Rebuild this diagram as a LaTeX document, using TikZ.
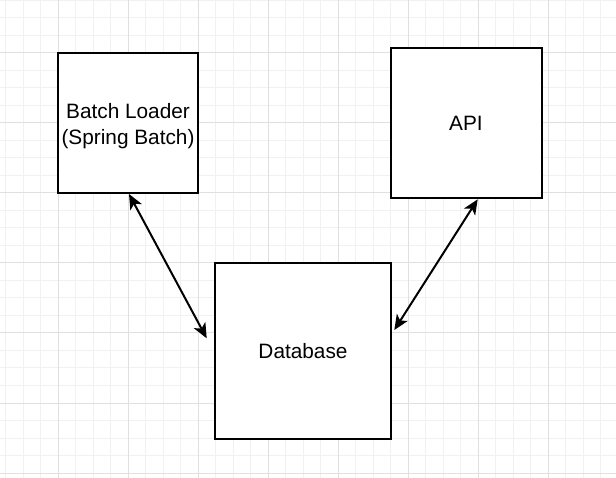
\documentclass[tikz,border=0pt]{standalone}
\usepackage{fontspec}
\setmainfont{Liberation Sans}
\usetikzlibrary{arrows.meta}
\definecolor{gridminor}{HTML}{F1F1F1}
\definecolor{gridmajor}{HTML}{E0E0E0}
\begin{document}
\begin{tikzpicture}[x=1pt,y=-1pt,
  box/.style={draw=black, line width=2pt, fill=white, inner sep=0pt, align=center,
    font=\fontsize{20.8}{26.3}\selectfont},
  boxtext/.style={inner sep=0pt, align=center, font=\fontsize{20.8}{26.3}\selectfont},
  link/.style={line width=2pt, {Stealth[length=15pt,width=13pt,inset=4pt]}-{Stealth[length=15pt,width=13pt,inset=4pt]}},
  minorline/.style={gridminor, line width=1pt},
  majorline/.style={gridmajor, line width=1pt}]
\useasboundingbox (0,0) rectangle (616,478);
\fill[white] (0,0) rectangle (616,478);
\foreach \i in {0,...,35} { \draw[minorline] ({5.5+17.5*\i},0) -- ({5.5+17.5*\i},478); }
\foreach \i in {0,...,27} { \draw[minorline] (0,{0.5+17.5*\i}) -- (616,{0.5+17.5*\i}); }
\foreach \i in {0,...,7} { \draw[majorline] ({58+70*\i},0) -- ({58+70*\i},478); }
\foreach \i in {0,...,6} { \draw[majorline] (0,{53+70*\i}) -- (616,{53+70*\i}); }

\node[box, minimum width=140pt, minimum height=140pt,
  label={[boxtext, yshift=-3pt]center:Batch Loader\\(Spring Batch)}] (batch) at (128,123) {};
\node[box, minimum width=151pt, minimum height=150pt] (api) at (466,123.5) {API};
\node[box, minimum width=176pt, minimum height=175pt] (db) at (303,351) {Database};

\coordinate (b1) at (129,194);
\coordinate (b2) at (206.7,338.3);
\coordinate (a1) at (477.7,199.3);
\coordinate (a2) at (394.3,330);
\draw[link] (b1) -- (b2);
\draw[link] (a1) -- (a2);
\end{tikzpicture}
\end{document}
